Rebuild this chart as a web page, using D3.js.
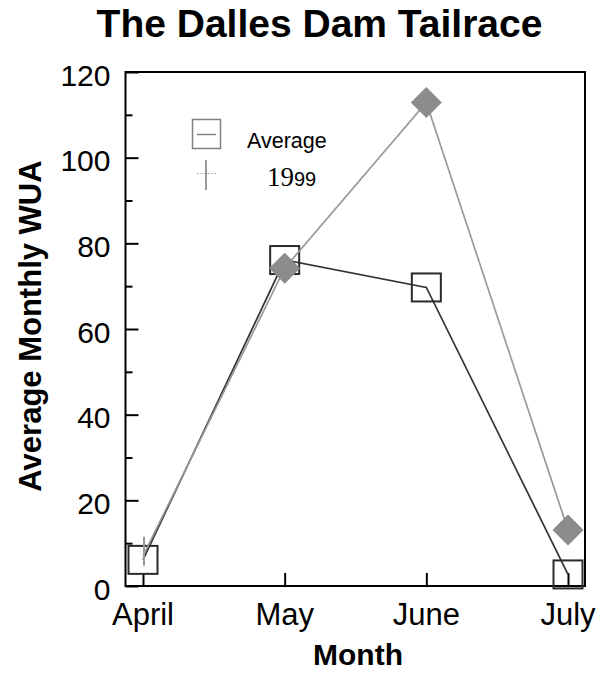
<!DOCTYPE html>
<html>
<head>
<meta charset="utf-8">
<title>The Dalles Dam Tailrace</title>
<script src="https://d3js.org/d3.v7.min.js"></script>
<style>
  body { margin: 0; background: #fff; }
  svg { display: block; font-family: Arial, "Liberation Sans", sans-serif; }
  .frame { fill: none; stroke: #000; stroke-width: 2; }
</style>
</head>
<body>
<svg width="608" height="673"></svg>
<script>
// chart values
var months = ["April", "May", "June", "July"];
var averageWUA = [6.1, 76.1, 69.7, 2.7];
var wua1999 = [7, 74.2, 112.9, 13.1];
// April 1999 is only shown as a vertical range
var range1999 = [[4.7, 11.5], null, null, null];
var yTicks = [0, 20, 40, 60, 80, 100, 120];
var yMinorTicks = [10, 30, 50, 70, 90, 110];

var svg = d3.select("svg");

// plot box (window.top is reserved, so use a prefix)
var plotLeft = 125.5, plotRight = 585, plotTop = 72, plotBottom = 586;

var x = d3.scalePoint()
    .domain(months)
    .range([143, 568]);

var y = d3.scaleLinear()
    .domain([0, 120])
    .range([plotBottom, plotTop]);

// title
svg.append("text")
    .attr("x", 319.5)
    .attr("y", 37)
    .attr("text-anchor", "middle")
    .attr("font-size", 39)
    .attr("font-weight", "bold")
    .text("The Dalles Dam Tailrace");

// y axis - ticks point inward
var yAxis = svg.append("g")
    .attr("transform", "translate(" + plotLeft + ",0)")
    .call(d3.axisRight(y).tickValues(yTicks).tickSize(13).tickFormat(""));
yAxis.select(".domain").remove();
yAxis.selectAll("line").attr("stroke", "#000").attr("stroke-width", 2);

var yMinor = svg.append("g")
    .attr("transform", "translate(" + plotLeft + ",0)")
    .call(d3.axisRight(y).tickValues(yMinorTicks).tickSize(7).tickFormat(""));
yMinor.select(".domain").remove();
yMinor.selectAll("line").attr("stroke", "#000").attr("stroke-width", 2);

svg.append("g").selectAll("text")
    .data(yTicks)
    .enter().append("text")
    .attr("x", 110.5)
    .attr("y", function(d) { return y(d) + 13.5; })
    .attr("text-anchor", "end")
    .attr("font-size", 30)
    .text(function(d) { return d; });

// x axis - ticks point up
var xAxis = svg.append("g")
    .attr("transform", "translate(0," + plotBottom + ")")
    .call(d3.axisTop(x).tickSize(13).tickFormat(""));
xAxis.select(".domain").remove();
xAxis.selectAll("line").attr("stroke", "#000").attr("stroke-width", 2);

svg.append("g").selectAll("text")
    .data(months)
    .enter().append("text")
    .attr("x", function(d) { return x(d); })
    .attr("y", 625)
    .attr("text-anchor", "middle")
    .attr("font-size", 31)
    .text(function(d) { return d; });

// axis titles
svg.append("text")
    .attr("x", 358)
    .attr("y", 665)
    .attr("text-anchor", "middle")
    .attr("font-size", 30)
    .attr("font-weight", "bold")
    .text("Month");

svg.append("text")
    .attr("transform", "translate(40.5,326) rotate(-90)")
    .attr("text-anchor", "middle")
    .attr("font-size", 31)
    .attr("font-weight", "bold")
    .text("Average Monthly WUA");

// frame
svg.append("rect")
    .attr("class", "frame")
    .attr("x", plotLeft)
    .attr("y", plotTop)
    .attr("width", plotRight - plotLeft)
    .attr("height", plotBottom - plotTop);

// Average series
var line = d3.line()
    .x(function(d, i) { return x(months[i]); })
    .y(function(d) { return y(d); });

svg.append("path")
    .datum(averageWUA)
    .attr("fill", "none")
    .attr("stroke", "#333")
    .attr("stroke-width", 1.7)
    .attr("d", line);

svg.append("g").selectAll("rect")
    .data(averageWUA)
    .enter().append("rect")
    .attr("x", function(d, i) { return x(months[i]) - 14.5; })
    .attr("y", function(d) { return y(d) - 14; })
    .attr("width", 29)
    .attr("height", 28)
    .attr("fill", "none")
    .attr("stroke", "#2a2a2a")
    .attr("stroke-width", 2);

// 1999 series
svg.append("path")
    .datum(wua1999)
    .attr("fill", "none")
    .attr("stroke", "#999")
    .attr("stroke-width", 1.7)
    .attr("d", line);

svg.append("g").selectAll("line")
    .data(range1999.map(function(r, i) { return { r: r, m: months[i] }; })
        .filter(function(d) { return d.r; }))
    .enter().append("line")
    .attr("x1", function(d) { return x(d.m) + 1; })
    .attr("x2", function(d) { return x(d.m) + 1; })
    .attr("y1", function(d) { return y(d.r[0]); })
    .attr("y2", function(d) { return y(d.r[1]); })
    .attr("stroke", "#999")
    .attr("stroke-width", 2);

svg.append("g").selectAll("path")
    .data(wua1999.map(function(v, i) { return { v: v, m: months[i], r: range1999[i] }; })
        .filter(function(d) { return !d.r; }))
    .enter().append("path")
    .attr("transform", function(d) { return "translate(" + x(d.m) + "," + y(d.v) + ")"; })
    .attr("d", "M0,-15.5L15.5,0L0,15.5L-15.5,0Z")
    .attr("fill", "#8c8c8c");

// legend
var lg = svg.append("g");
lg.append("rect")
    .attr("x", 192.5).attr("y", 119.5)
    .attr("width", 28).attr("height", 29)
    .attr("fill", "none").attr("stroke", "#808080").attr("stroke-width", 1.5);
lg.append("line")
    .attr("x1", 197).attr("x2", 216).attr("y1", 134.5).attr("y2", 134.5)
    .attr("stroke", "#808080").attr("stroke-width", 1.5);
lg.append("text")
    .attr("x", 247).attr("y", 147.5)
    .attr("font-size", 21.5)
    .text("Average");

lg.append("line")
    .attr("x1", 206).attr("x2", 206).attr("y1", 160).attr("y2", 190)
    .attr("stroke", "#999").attr("stroke-width", 2);
lg.append("line")
    .attr("x1", 197).attr("x2", 217).attr("y1", 173.5).attr("y2", 173.5)
    .attr("stroke", "#999").attr("stroke-width", 1)
    .attr("stroke-dasharray", "1.5,2");
var t = lg.append("text")
    .attr("x", 267).attr("y", 186);
t.append("tspan")
    .attr("font-family", "'Liberation Serif', 'Times New Roman', serif")
    .attr("font-size", 27)
    .text("19");
t.append("tspan")
    .attr("font-size", 20)
    .text("99");
</script>
</body>
</html>
